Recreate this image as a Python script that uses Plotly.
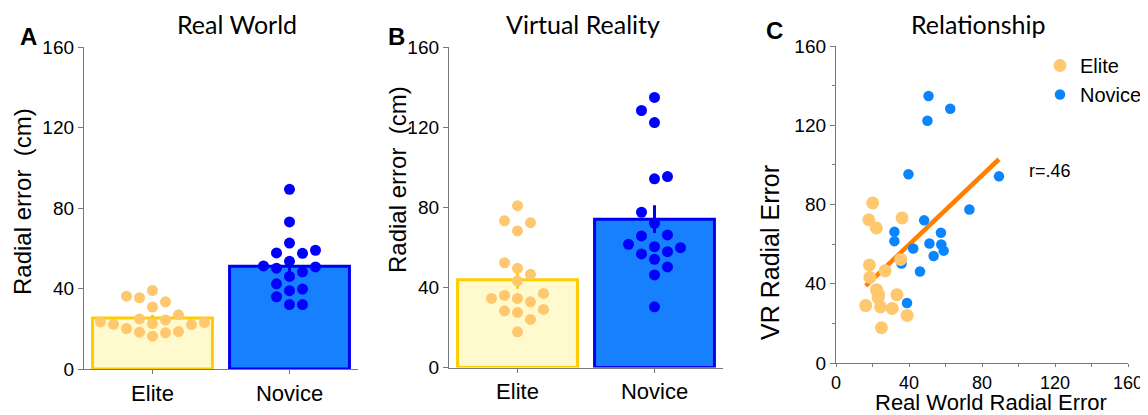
import numpy as np
import plotly.graph_objects as go

# ---------------- data ----------------
categories = ["Elite", "Novice"]

# paired values per participant: real-world radial error, VR radial error (cm)
rw_elite = [16.3, 18.0, 18.3, 18.6, 20.1, 22.1, 22.2, 23.1, 24.4, 24.9, 26.9, 30.8, 33.4, 35.4, 36.2, 39.0, 22.6, 23.4]
vr_elite = [29.0, 72.3, 49.5, 43.2, 80.8, 68.2, 37.0, 32.8, 28.3, 17.8, 46.5, 27.5, 34.5, 52.3, 73.2, 24.0, 36.0, 34.5]

rw_novice = [32.0, 32.0, 35.9, 38.9, 39.7, 42.3, 46.0, 48.3, 50.1, 50.7, 51.2, 53.5, 57.5, 57.7, 59.0, 62.6, 73.1, 89.3]
vr_novice = [66.2, 61.5, 50.2, 30.3, 95.3, 57.8, 46.2, 72.0, 122.3, 134.8, 60.3, 54.0, 65.7, 59.8, 56.7, 128.3, 77.5, 94.2]

# regression line
fit_slope = 0.875
fit_intercept = 24.7

y_ticks = [0, 40, 80, 120, 160]
x_ticks_c = [0, 40, 80, 120, 160]
r_label = "r=.46"

# ---------------- styling ----------------
PAGE_W, PAGE_H = 1148, 415
OFF = 8  # default page margin of the html body
W, H = PAGE_W - OFF, PAGE_H - OFF
FONT = "Liberation Sans"
TITLE_FONT = "Lato"
AX_COL = "#7a7a7a"

ELITE_DOT = "#FFC76E"
ELITE_FILL = "#FFFACD"
ELITE_EDGE = "#FFCC00"
NOV_DOT = "#0000FF"
NOV_FILL = "#1780FF"
NOV_EDGE = "#0000EE"
NOV_SC = "#0A84FF"
LINE_COL = "#FF7F00"


def px_x(p):
    return (p - OFF) / W


def px_y(p):
    return 1 - (p - OFF) / H


# panel geometry in page pixels
A_X = (84, 358); A_Y = (369, 47)
B_X = (449, 723); B_Y = (367.5, 47)
C_X = (836, 1128); C_Y = (363, 46)


def swarm_offsets(values, ppu_y, ppu_x, diam_px, step_px):
    n = len(values)
    order = sorted(range(n), key=lambda i: values[i])
    cols = {}
    off = [0.0] * n
    slots = [0]
    for m in range(1, 30):
        slots += [m, -m]
    for i in order:
        y = values[i] * ppu_y
        chosen = 0
        for s in slots:
            if all(abs(y - yy) >= diam_px for yy in cols.get(s, [])):
                if s != 0 and len(cols.get(-s, [])) < len(cols.get(s, [])):
                    if all(abs(y - yy) >= diam_px for yy in cols.get(-s, [])):
                        s = -s
                chosen = s
                break
        cols.setdefault(chosen, []).append(y)
        off[i] = chosen * step_px / ppu_x
    return off


fig = go.Figure()


def add_bar_panel(xa, ya, e_vals, n_vals, ppu_y, ppu_x):
    groups = [
        (0, e_vals, ELITE_FILL, ELITE_EDGE, ELITE_DOT),
        (1, n_vals, NOV_FILL, NOV_EDGE, NOV_DOT),
    ]
    for pos, vals, fill, edge, dot in groups:
        arr = np.array(vals)
        mean = arr.mean()
        sem = arr.std(ddof=1) / np.sqrt(len(arr))
        fig.add_trace(go.Bar(
            x=[pos], y=[mean], width=0.875,
            marker=dict(color=fill, line=dict(color=edge, width=3)),
            error_y=dict(type="data", array=[sem], color=edge, thickness=3, width=0),
            xaxis=xa, yaxis=ya, showlegend=False, hoverinfo="skip",
        ))
    for pos, vals, fill, edge, dot in groups:
        offs = swarm_offsets(vals, ppu_y, ppu_x, 12.5, 13.0)
        fig.add_trace(go.Scatter(
            x=[pos + o for o in offs], y=vals, mode="markers",
            marker=dict(color=dot, size=11, line=dict(width=0)),
            xaxis=xa, yaxis=ya, showlegend=False, hoverinfo="skip",
        ))


ppu_x_bar = (A_X[1] - A_X[0]) / 2.0
add_bar_panel("x", "y", rw_elite, rw_novice, (A_Y[0] - A_Y[1]) / 160.0, ppu_x_bar)
add_bar_panel("x2", "y2", vr_elite, vr_novice, (B_Y[0] - B_Y[1]) / 160.0, ppu_x_bar)

# ---- panel C ----
all_rw = np.array(rw_elite + rw_novice)
lx = np.array([all_rw.min(), all_rw.max()])
fig.add_trace(go.Scatter(
    x=lx, y=fit_slope * lx + fit_intercept, mode="lines",
    line=dict(color=LINE_COL, width=4.5),
    xaxis="x3", yaxis="y3", showlegend=False, hoverinfo="skip",
))
fig.add_trace(go.Scatter(
    x=rw_novice, y=vr_novice, mode="markers", name="Novice",
    marker=dict(color=NOV_SC, size=10.5, line=dict(width=0)),
    xaxis="x3", yaxis="y3", legendrank=2,
))
fig.add_trace(go.Scatter(
    x=rw_elite, y=vr_elite, mode="markers", name="Elite",
    marker=dict(color=ELITE_DOT, size=13, line=dict(width=0)),
    xaxis="x3", yaxis="y3", legendrank=1,
))


def axis_common(**kw):
    d = dict(showline=True, linecolor=AX_COL, linewidth=1.3, ticks="outside",
             ticklen=5, tickcolor=AX_COL, tickwidth=1.3, showgrid=False,
             zeroline=False, automargin=False,
             tickfont=dict(family=FONT, size=19, color="#000"))
    d.update(kw)
    return d


bar_x = dict(range=[-0.5, 1.5], tickvals=[0, 1], ticktext=categories,
             tickfont=dict(family=FONT, size=22, color="#000"), ticklen=4)

fig.update_layout(
    width=W, height=H, margin=dict(l=0, r=0, t=0, b=0, autoexpand=False),
    paper_bgcolor="white", plot_bgcolor="white",
    barmode="overlay",
    xaxis=axis_common(domain=[px_x(A_X[0]), px_x(A_X[1])], anchor="y", **bar_x),
    yaxis=axis_common(domain=[px_y(A_Y[0]), px_y(A_Y[1])], anchor="x", range=[0, 160], tickvals=y_ticks),
    xaxis2=axis_common(domain=[px_x(B_X[0]), px_x(B_X[1])], anchor="y2", **bar_x),
    yaxis2=axis_common(domain=[px_y(B_Y[0]), px_y(B_Y[1])], anchor="x2", range=[0, 160], tickvals=y_ticks),
    xaxis3=axis_common(domain=[px_x(C_X[0]), px_x(C_X[1])], anchor="y3", range=[0, 160], tickvals=x_ticks_c,
                       ticklen=3, tickfont=dict(family=FONT, size=18, color="#000"),
                       minor=dict(ticks="outside", ticklen=3, dtick=20, tickcolor=AX_COL)),
    yaxis3=axis_common(domain=[px_y(C_Y[0]), px_y(C_Y[1])], anchor="x3", range=[0, 160], tickvals=y_ticks,
                       minor=dict(ticks="outside", ticklen=3, dtick=20, tickcolor=AX_COL)),
    legend=dict(x=px_x(1040), y=px_y(46), xanchor="left", yanchor="top",
                font=dict(family=FONT, size=20, color="#000"), itemsizing="trace",
                bgcolor="rgba(0,0,0,0)", traceorder="normal"),
    font=dict(family=FONT, color="#000"),
)

ann = []
for txt, cx in [("Real World", 237), ("Virtual Reality", 583), ("Relationship", 978)]:
    ann.append(dict(text=txt, x=px_x(cx), y=px_y(24), xref="paper", yref="paper",
                    xanchor="center", yanchor="middle", showarrow=False,
                    font=dict(family=TITLE_FONT, size=25, color="#000")))
for txt, cx, cy in [("A", 29, 36), ("B", 396, 36), ("C", 774, 30)]:
    ann.append(dict(text="<b>%s</b>" % txt, x=px_x(cx), y=px_y(cy), xref="paper", yref="paper",
                    xanchor="center", yanchor="middle", showarrow=False,
                    font=dict(family=FONT, size=24, color="#000")))
for txt, cx, cy in [("Radial error  (cm)", 22, 202), ("Radial error  (cm)", 398, 180),
                    ("VR Radial Error", 770, 253)]:
    ann.append(dict(text=txt, x=px_x(cx), y=px_y(cy), xref="paper", yref="paper",
                    xanchor="center", yanchor="middle", showarrow=False, textangle=-90,
                    font=dict(family=FONT, size=24 if "cm" in txt else 25, color="#000")))
ann.append(dict(text="Real World Radial Error", x=px_x(991), y=px_y(402), xref="paper", yref="paper",
                xanchor="center", yanchor="middle", showarrow=False,
                font=dict(family=FONT, size=22, color="#000")))
ann.append(dict(text=r_label, x=px_x(1050), y=px_y(171), xref="paper", yref="paper",
                xanchor="center", yanchor="middle", showarrow=False,
                font=dict(family=FONT, size=18, color="#000")))
fig.update_layout(annotations=ann)

fig.write_html("out.html")
